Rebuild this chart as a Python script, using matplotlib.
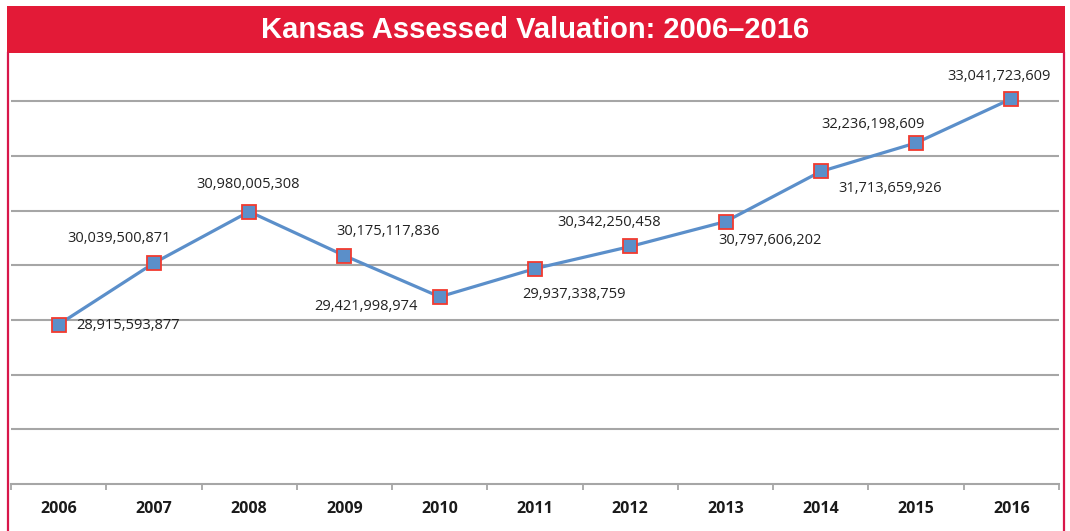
import matplotlib.pyplot as plt
from matplotlib.patches import Rectangle
from matplotlib.lines import Line2D
from matplotlib.ticker import FixedLocator

# data
years = ['2006', '2007', '2008', '2009', '2010', '2011',
         '2012', '2013', '2014', '2015', '2016']
values = [28915593877, 30039500871, 30980005308, 30175117836, 29421998974,
          29937338759, 30342250458, 30797606202, 31713659926, 32236198609,
          33041723609]

# label offsets from each marker, in pixels (dx right, dy up)
label_dx = [18, -35, -1, 44, -74, 39, -21, 44, 69, -43, -12]
label_dy = [-1, 25, 27, 24, -10, -26, 24, -19, -17, 18, 22]
label_ha = ['left', 'center', 'center', 'center', 'center', 'center',
            'center', 'center', 'center', 'center', 'center']

W, H = 1070, 531
fig = plt.figure(figsize=(W / 100, H / 100), dpi=100)
fig.patch.set_facecolor('white')

red = '#e31a37'
# title banner
fig.patches.append(Rectangle((7 / W, 1 - 53 / H), (1065 - 7) / W, 47 / H,
                             transform=fig.transFigure, facecolor=red,
                             edgecolor='none', zorder=0))
fig.text(535 / W, 1 - 30 / H, 'Kansas Assessed Valuation: 2006\u20132016',
         color='white', fontsize=21, fontweight='bold', ha='center', va='center',
         family=['Liberation Sans Narrow', 'Liberation Sans', 'DejaVu Sans'])
# side borders
for x in (7.5, 1064):
    fig.lines.append(Line2D([x / W, x / W], [0, 1 - 53 / H], transform=fig.transFigure,
                            color='#d8174a', lw=1.6))

ax = fig.add_axes([11 / W, 1 - 484 / H, (1059 - 11) / W, (484 - 53) / H])
x = list(range(len(years)))
ax.set_xlim(-0.5, len(years) - 0.5)
ax.set_ylim(26e9, 26e9 + (484 - 53) / 54.7 * 1e9)

for g in range(27, 34):
    ax.axhline(g * 1e9, color='#a6a6a6', lw=1.5, zorder=1)

ax.plot(x, values, color='#5b8fca', lw=2.3, zorder=3,
        marker='s', markersize=9.5, markerfacecolor='#5b8fc9',
        markeredgecolor='#f23a2f', markeredgewidth=1.3)

for i, v in enumerate(values):
    ax.annotate(f'{v:,}', (x[i], v), xytext=(label_dx[i] * 0.72, label_dy[i] * 0.72),
                textcoords='offset points', ha=label_ha[i], va='center',
                fontsize=10.5, family='Open Sans', color='#222222')

for s in ('top', 'right', 'left'):
    ax.spines[s].set_visible(False)
ax.spines['bottom'].set_color('#a6a6a6')
ax.spines['bottom'].set_linewidth(1.5)
ax.set_yticks([])
ax.set_xticks(x)
ax.set_xticklabels(years, fontsize=11.5, fontweight='bold', family='Open Sans',
                   color='#1a1a1a')
ax.tick_params(axis='x', which='major', length=0, pad=12)
ax.xaxis.set_minor_locator(FixedLocator([i - 0.5 for i in range(len(years) + 1)]))
ax.tick_params(axis='x', which='minor', length=4, width=1.3, color='#a6a6a6')
ax.patch.set_alpha(0)

fig.savefig('out.png', dpi=100)
